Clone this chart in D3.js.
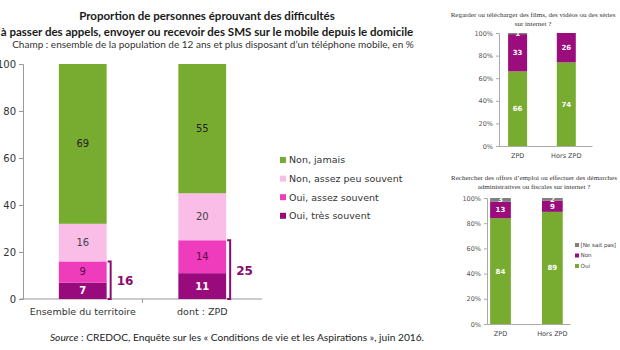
<!DOCTYPE html>
<html>
<head>
<meta charset="utf-8">
<script src="https://cdn.jsdelivr.net/npm/d3@7"></script>
<style>
  body { margin: 0; background: #fff; }
  svg { display: block; }
</style>
</head>
<body>
<div id="graphic"></div>
<script>
// main chart data
const mainCats = ["Ensemble du territoire", "dont : ZPD"];
const mainSeries = ["Oui, très souvent", "Oui, assez souvent", "Non, assez peu souvent", "Non, jamais"];
const tresSouvent = [7, 11];
const assezSouvent = [9, 14];
const assezPeu = [16, 20];
const jamais = [69, 55];
const ouiTotal = [16, 25];
const mainTicks = [0, 20, 40, 60, 80, 100];

// small charts data
const smallCats = ["ZPD", "Hors ZPD"];
const smallSeries = ["Oui", "Non", "[Ne sait pas]"];
const filmsOui = [66, 74];
const filmsNon = [33, 26];
const filmsNsp = [1, 0];
const emploiOui = [84, 89];
const emploiNon = [13, 9];
const emploiNsp = [3, 2];
const smallTicks = [0, 20, 40, 60, 80, 100];

const titleLines = [
  "Proportion de personnes éprouvant des difficultés",
  "à passer des appels, envoyer ou recevoir des SMS sur le mobile depuis le domicile"
];
const champ = "Champ : ensemble de la population de 12 ans et plus disposant d’un téléphone mobile, en %";

const mainColours = ["#990b7c", "#ee3cbd", "#f9bde7", "#78ac30"];
const mainLabelColours = ["#fff", "#5c0549", "#444", "#222"];
const smallColours = ["#78ac30", "#9b0c7d", "#808080"];
const bracketColour = "#8c0b71";

const svg = d3.select('#graphic').append('svg')
  .attr('width', 620).attr('height', 350);

// titles
svg.selectAll('text.title').data(titleLines).join('text')
  .attr('class', 'title')
  .attr('x', 207).attr('y', (d, i) => 19.5 + i * 16)
  .attr('text-anchor', 'middle')
  .style('font-family', 'Lato, sans-serif').style('font-weight', 'bold')
  .style('font-size', '11.5px').attr('fill', '#1a1a1a')
  .text(d => d);

svg.append('text')
  .attr('x', 213).attr('y', 47.5)
  .attr('text-anchor', 'middle')
  .style('font-family', 'Lato, sans-serif').style('font-size', '10px')
  .attr('fill', '#333')
  .text(champ);

// ---------- main chart ----------
const y = d3.scaleLinear().domain([0, 100]).range([299, 64]).clamp(true);
const x = d3.scaleBand().domain(mainCats).range([23, 262]).paddingInner(0.6).paddingOuter(0.3);

const mainRows = mainCats.map((c, i) => ({
  cat: c,
  [mainSeries[0]]: tresSouvent[i],
  [mainSeries[1]]: assezSouvent[i],
  [mainSeries[2]]: assezPeu[i],
  [mainSeries[3]]: jamais[i]
}));
const mainStack = d3.stack().keys(mainSeries)(mainRows);

const main = svg.append('g');

// y axis
main.append('g')
  .attr('transform', 'translate(23,0)')
  .call(d3.axisLeft(y).tickValues(mainTicks).tickSize(4).tickPadding(3))
  .call(g => g.selectAll('line, path').attr('stroke', '#999'))
  .call(g => g.selectAll('text').attr('fill', '#333')
    .style('font-family', '"DejaVu Sans", Verdana, sans-serif').style('font-size', '10px'));

// x axis
main.append('g')
  .attr('transform', 'translate(0,299)')
  .call(d3.axisBottom(x).tickSize(0).tickPadding(9))
  .call(g => g.select('path').remove())
  .call(g => g.selectAll('text').attr('fill', '#333')
    .style('font-family', '"DejaVu Sans", Verdana, sans-serif').style('font-size', '9.5px'));

main.append('line')
  .attr('x1', 20).attr('x2', x.range()[1]).attr('y1', y(0)).attr('y2', y(0))
  .attr('stroke', '#999');
main.selectAll('line.sep').data(mainCats.slice(1)).join('line')
  .attr('class', 'sep')
  .attr('x1', d => x(d) - x.step() * x.paddingInner() / 2)
  .attr('x2', d => x(d) - x.step() * x.paddingInner() / 2)
  .attr('y1', y(0)).attr('y2', y(0) + 4)
  .attr('stroke', '#999');

// bars
const layers = main.append('g').selectAll('g').data(mainStack).join('g')
  .attr('fill', (d, i) => mainColours[i]);

layers.selectAll('rect').data(d => d).join('rect')
  .attr('x', d => x(d.data.cat))
  .attr('width', x.bandwidth())
  .attr('y', d => y(d[1]))
  .attr('height', d => y(d[0]) - y(d[1]));

mainStack.forEach((layer, li) => {
  main.append('g').selectAll('text').data(layer).join('text')
    .attr('x', d => x(d.data.cat) + x.bandwidth() / 2)
    .attr('y', d => (y(d[0]) + y(d[1])) / 2)
    .attr('dy', '0.35em')
    .attr('text-anchor', 'middle')
    .attr('fill', mainLabelColours[li])
    .style('font-family', '"DejaVu Sans", Verdana, sans-serif')
    .style('font-size', '10px')
    .style('font-weight', li === 0 ? 'bold' : 'normal')
    .text(d => d.data[layer.key]);
});

// brackets for "Oui" total
const brackets = main.append('g').selectAll('g').data(mainCats).join('g');
brackets.append('path')
  .attr('d', (d, i) => {
    const bx = x(d) + x.bandwidth() + 4;
    return 'M' + (bx - 3) + ',' + y(ouiTotal[i]) + 'H' + bx + 'V' + y(0) + 'H' + (bx - 3);
  })
  .attr('fill', 'none').attr('stroke', bracketColour).attr('stroke-width', 2);
brackets.append('text')
  .attr('x', d => x(d) + x.bandwidth() + 10)
  .attr('y', (d, i) => (y(ouiTotal[i]) + y(0)) / 2 + 1)
  .attr('dy', '0.35em')
  .attr('fill', bracketColour)
  .style('font-family', '"DejaVu Sans", Verdana, sans-serif')
  .style('font-size', '12px').style('font-weight', 'bold')
  .text((d, i) => ouiTotal[i]);

// legend (top to bottom: reverse of stacking order)
const legendItems = mainSeries.map((s, i) => ({ s, c: mainColours[i] })).reverse();
const leg = main.append('g').selectAll('g').data(legendItems).join('g')
  .attr('transform', (d, i) => 'translate(280,' + (160 + i * 18.6) + ')');
leg.append('rect').attr('x', 0).attr('y', -3).attr('width', 6).attr('height', 6).attr('fill', d => d.c);
leg.append('text').attr('x', 9).attr('dy', '0.35em')
  .attr('fill', '#333')
  .style('font-family', '"DejaVu Sans", Verdana, sans-serif').style('font-size', '9.5px')
  .text(d => d.s);

// source
const src = svg.append('text')
  .attr('x', 237).attr('y', 341)
  .attr('text-anchor', 'middle')
  .style('font-family', 'Lato, sans-serif').style('font-size', '10.2px')
  .attr('fill', '#222');
src.append('tspan').style('font-style', 'italic').text('Source');
src.append('tspan').text(' : CREDOC, Enquête sur les « Conditions de vie et les Aspirations », juin 2016.');

// ---------- small charts ----------
function smallChart(opts) {
  const g = svg.append('g');
  const sy = d3.scaleLinear().domain([0, 100]).range([opts.y0, opts.y1]).clamp(true);
  const sx = d3.scaleBand().domain(smallCats).range(opts.xr)
    .paddingInner(opts.pin).paddingOuter(opts.pout).align(opts.align);

  g.selectAll('text.st').data(opts.title).join('text')
    .attr('class', 'st')
    .attr('x', opts.tx).attr('y', (d, i) => opts.ty + i * 9)
    .attr('text-anchor', 'middle')
    .style('font-family', '"Liberation Serif", serif').style('font-size', '7px')
    .attr('fill', '#333')
    .text(d => d);

  g.append('g')
    .attr('transform', 'translate(' + opts.xr[0] + ',0)')
    .call(d3.axisLeft(sy).tickValues(smallTicks).tickFormat(d => d + '%').tickSize(3).tickPadding(3))
    .call(g => g.selectAll('line, path').attr('stroke', '#aaa'))
    .call(g => g.selectAll('text').attr('fill', '#555')
      .style('font-family', '"DejaVu Sans", Verdana, sans-serif').style('font-size', '6.5px'));

  g.append('g')
    .attr('transform', 'translate(0,' + opts.y0 + ')')
    .call(d3.axisBottom(sx).tickSize(0).tickPadding(7))
    .call(g => g.select('path').attr('stroke', '#aaa'))
    .call(g => g.selectAll('text').attr('fill', '#444')
      .style('font-family', '"DejaVu Sans", Verdana, sans-serif').style('font-size', '6.5px'));

  const rows = smallCats.map((c, i) => ({
    cat: c, Oui: opts.oui[i], Non: opts.non[i], '[Ne sait pas]': opts.nsp[i]
  }));
  const st = d3.stack().keys(smallSeries)(rows);

  st.forEach((layer, li) => {
    g.append('g').attr('fill', smallColours[li]).selectAll('rect').data(layer).join('rect')
      .attr('x', d => sx(d.data.cat)).attr('width', sx.bandwidth())
      .attr('y', d => sy(d[1])).attr('height', d => sy(d[0]) - sy(d[1]));
    g.append('g').selectAll('text').data(layer.filter(d => d.data[layer.key] > 0)).join('text')
      .attr('x', d => sx(d.data.cat) + sx.bandwidth() / 2)
      .attr('y', d => (sy(d[0]) + sy(d[1])) / 2)
      .attr('dy', '0.35em').attr('text-anchor', 'middle')
      .attr('fill', '#fff')
      .style('font-family', '"DejaVu Sans", Verdana, sans-serif')
      .style('font-size', '7px').style('font-weight', 'bold')
      .text(d => d.data[layer.key]);
  });

  if (opts.legend) {
    const items = smallSeries.map((s, i) => ({ s, c: smallColours[i] })).reverse();
    const lg = g.append('g').selectAll('g').data(items).join('g')
      .attr('transform', (d, i) => 'translate(' + opts.legend[0] + ',' + (opts.legend[1] + i * 10.5) + ')');
    lg.append('rect').attr('y', -2).attr('width', 4).attr('height', 4).attr('fill', d => d.c);
    lg.append('text').attr('x', 5.5).attr('dy', '0.35em')
      .attr('fill', '#444')
      .style('font-family', '"DejaVu Sans", Verdana, sans-serif').style('font-size', '5.6px')
      .text(d => d.s);
  }
}

smallChart({
  title: ["Regarder ou télécharger des films, des vidéos ou des séries", "sur internet ?"],
  tx: 533, ty: 17,
  oui: filmsOui, non: filmsNon, nsp: filmsNsp,
  y0: 146, y1: 33, xr: [499, 592], pin: 0.61, pout: 0.26, align: 0.36
});

smallChart({
  title: ["Rechercher des offres d’emploi ou effectuer des démarches", "administratives ou fiscales sur internet ?"],
  tx: 534, ty: 180,
  oui: emploiOui, non: emploiNon, nsp: emploiNsp,
  y0: 324, y1: 198, xr: [487, 570], pin: 0.6, pout: 0.1, align: 0.3,
  legend: [575, 245]
});
</script>
</body>
</html>
